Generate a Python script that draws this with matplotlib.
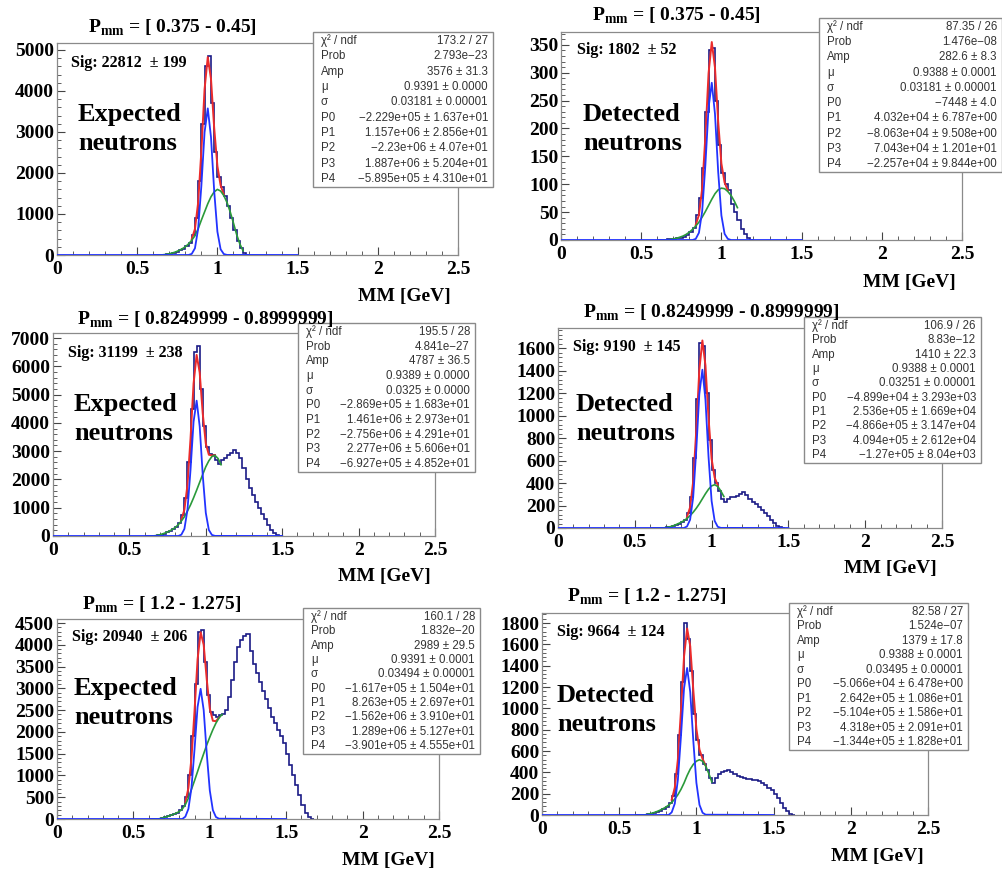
import numpy as np
import matplotlib
matplotlib.use('Agg')
import matplotlib.pyplot as plt
from matplotlib.patches import Rectangle
from matplotlib.ticker import MultipleLocator, FixedLocator, FixedFormatter

# figure size in pixels
W, H = 1003, 869

# all series sit on a 0.02 GeV grid
BIN = 0.02
HIST_START = 0.60   # left edge of first histogram bin
GAUSS_START = 0.82  # first point of gaussian curve
BKG_START = 0.64    # first point of pol4 background curve
TOTAL_START = 0.84  # first point of total fit curve

# ---- panel 1: expected, P = 0.375-0.45
p1_hist = [0, 0, 5, 10, 20, 35, 50, 75, 110, 150, 210, 300, 480, 900, 1800, 3200,
           4600, 4850, 3700, 2500, 1900, 1650, 1450, 1200, 900, 600, 350, 160, 50, 5]
p1_gauss = [0, 28, 164, 640, 1686, 2993, 3576, 2875, 1558, 569, 140, 23, 2]
p1_bkg = [0, 5, 15, 30, 50, 75, 110, 150, 200, 270, 360, 470, 640, 850, 1050, 1250,
          1420, 1540, 1600, 1560, 1450, 1280, 1050, 780, 500, 270, 100]
p1_total = [388, 634, 1280, 2536, 4043, 4826, 4295, 3098, 2169, 1700, 1473]

# ---- panel 2: detected, P = 0.375-0.45
p2_hist = [0, 0, 0, 1, 1, 2, 3, 4, 6, 9, 14, 22, 45, 75, 130, 230, 340, 345, 250,
           170, 120, 100, 90, 65, 50, 35, 20, 10, 3, 0]
p2_gauss = [0, 2, 13, 51, 134, 237, 282, 226, 122, 44, 11, 2, 0]
p2_bkg = [0, 0, 1, 2, 3, 5, 7, 10, 14, 19, 25, 32, 41, 51, 62, 73, 83, 90, 93, 92,
          87, 80, 70, 58]
p2_total = [27, 45, 92, 185, 299, 355, 309, 212, 137, 103, 89]

# ---- panel 3: expected, P = 0.825-0.9
p3_hist = [0, 0, 5, 10, 25, 50, 85, 125, 175, 240, 330, 460, 750, 1350, 2600, 4500,
           6500, 6700, 5200, 3900, 3150, 2900, 2850, 2700, 2550, 2700, 2750, 2850,
           2950, 3050, 2950, 2750, 2400, 2000, 1700, 1450, 1200, 980, 780, 600, 400,
           220, 90, 20, 0]
p3_gauss = [0, 47, 251, 927, 2339, 4043, 4785, 3877, 2151, 818, 213, 38, 4]
p3_bkg = [0, 5, 20, 45, 80, 120, 170, 230, 300, 400, 530, 680, 880, 1100, 1350, 1620,
          1900, 2180, 2450, 2660, 2810, 2850, 2740, 2520]
p3_total = [577, 931, 1807, 3439, 5393, 6405, 5777, 4331, 3268, 2873, 2848, 2854]

# ---- panel 4: detected, P = 0.825-0.9
p4_hist = [0, 0, 0, 0, 2, 5, 10, 17, 27, 40, 55, 75, 130, 280, 620, 1150, 1650, 1620,
           1200, 780, 520, 400, 330, 260, 230, 260, 275, 280, 285, 300, 320, 290, 260,
           230, 210, 185, 160, 135, 105, 75, 45, 20, 5, 0]
p4_gauss = [0, 14, 74, 273, 689, 1191, 1409, 1142, 634, 241, 63, 11, 1]
p4_bkg = [0, 0, 0, 3, 8, 15, 25, 37, 50, 65, 85, 110, 140, 175, 215, 260, 305, 345,
          375, 385, 370, 330, 280]
p4_total = [99, 184, 413, 864, 1406, 1669, 1447, 979, 616, 448, 381]

# ---- panel 5: expected, P = 1.2-1.275
p5_hist = [0, 0, 5, 10, 20, 40, 60, 85, 110, 145, 200, 300, 500, 1000, 1900, 3100,
           4300, 4350, 3600, 2850, 2450, 2380, 2350, 2380, 2400, 2500, 2800, 3200,
           3600, 3950, 4100, 4200, 4250, 3850, 3550, 3350, 3150, 2950, 2750, 2550,
           2350, 2200, 2050, 1900, 1750, 1500, 1250, 1000, 780, 550, 320, 130, 40, 5]
p5_gauss = [0, 54, 231, 716, 1598, 2574, 2989, 2500, 1506, 655, 205, 46, 7]
p5_bkg = [0, 0, 15, 35, 55, 80, 105, 135, 170, 230, 330, 480, 680, 880, 1090, 1300,
          1500, 1700, 1880, 2050, 2200, 2320, 2400]
p5_total = [384, 711, 1396, 2478, 3664, 4289, 4000, 3206, 2535, 2255, 2246, 2327]

# ---- panel 6: detected, P = 1.2-1.275
p6_hist = [0, 0, 0, 2, 5, 12, 20, 30, 42, 56, 75, 110, 180, 380, 750, 1250, 1800,
           1650, 1350, 950, 700, 560, 480, 420, 350, 300, 350, 380, 400, 410, 420,
           400, 380, 370, 360, 350, 340, 340, 330, 330, 320, 300, 280, 255, 230, 200,
           160, 115, 70, 35, 10, 0]
p6_gauss = [0, 25, 107, 330, 737, 1188, 1379, 1153, 695, 302, 95, 21, 3]
p6_bkg = [0, 0, 5, 12, 20, 30, 42, 56, 72, 92, 118, 150, 190, 240, 300, 370, 430,
          475, 505, 518, 505, 460, 390, 310]
p6_total = [143, 257, 520, 977, 1488, 1749, 1583, 1170, 807, 613, 526, 463]

titles = ['[ 0.375 - 0.45]', '[ 0.375 - 0.45]', '[ 0.8249999 - 0.8999999]',
          '[ 0.8249999 - 0.8999999]', '[ 1.2 - 1.275]', '[ 1.2 - 1.275]']
sig_texts = ['Sig: 22812  \u00b1 199', 'Sig: 1802  \u00b1 52', 'Sig: 31199  \u00b1 238',
             'Sig: 9190  \u00b1 145', 'Sig: 20940  \u00b1 206', 'Sig: 9664  \u00b1 124']
big_labels = ['Expected\nneutrons', 'Detected\nneutrons'] * 3

stat_names = ['\u03c7\u00b2 / ndf', 'Prob', 'Amp', '\u03bc', '\u03c3',
              'P0', 'P1', 'P2', 'P3', 'P4']
p1_stats = ['173.2 / 27', '2.793e\u221223', '3576 \u00b1 31.3', '0.9391 \u00b1 0.0000',
            '0.03181 \u00b1 0.00001', '\u22122.229e+05 \u00b1 1.637e+01',
            '1.157e+06 \u00b1 2.856e+01', '\u22122.23e+06 \u00b1 4.07e+01',
            '1.887e+06 \u00b1 5.204e+01', '\u22125.895e+05 \u00b1 4.310e+01']
p2_stats = ['87.35 / 26', '1.476e\u221208', '282.6 \u00b1 8.3', '0.9388 \u00b1 0.0001',
            '0.03181 \u00b1 0.00001', '\u22127448 \u00b1 4.0',
            '4.032e+04 \u00b1 6.787e+00', '\u22128.063e+04 \u00b1 9.508e+00',
            '7.043e+04 \u00b1 1.201e+01', '\u22122.257e+04 \u00b1 9.844e+00']
p3_stats = ['195.5 / 28', '4.841e\u221227', '4787 \u00b1 36.5', '0.9389 \u00b1 0.0000',
            '0.0325 \u00b1 0.0000', '\u22122.869e+05 \u00b1 1.683e+01',
            '1.461e+06 \u00b1 2.973e+01', '\u22122.756e+06 \u00b1 4.291e+01',
            '2.277e+06 \u00b1 5.606e+01', '\u22126.927e+05 \u00b1 4.852e+01']
p4_stats = ['106.9 / 26', '8.83e\u221212', '1410 \u00b1 22.3', '0.9388 \u00b1 0.0001',
            '0.03251 \u00b1 0.00001', '\u22124.899e+04 \u00b1 3.293e+03',
            '2.536e+05 \u00b1 1.669e+04', '\u22124.866e+05 \u00b1 3.147e+04',
            '4.094e+05 \u00b1 2.612e+04', '\u22121.27e+05 \u00b1 8.04e+03']
p5_stats = ['160.1 / 28', '1.832e\u221220', '2989 \u00b1 29.5', '0.9391 \u00b1 0.0001',
            '0.03494 \u00b1 0.00001', '\u22121.617e+05 \u00b1 1.504e+01',
            '8.263e+05 \u00b1 2.697e+01', '\u22121.562e+06 \u00b1 3.910e+01',
            '1.289e+06 \u00b1 5.127e+01', '\u22123.901e+05 \u00b1 4.555e+01']
p6_stats = ['82.58 / 27', '1.524e\u221207', '1379 \u00b1 17.8', '0.9388 \u00b1 0.0001',
            '0.03495 \u00b1 0.00001', '\u22125.066e+04 \u00b1 6.478e+00',
            '2.642e+05 \u00b1 1.086e+01', '\u22125.104e+05 \u00b1 1.586e+01',
            '4.318e+05 \u00b1 2.091e+01', '\u22121.344e+05 \u00b1 1.828e+01']

# layout in pixels: axes (left, top, right, bottom), y top, y tick step,
# title centre, sig pos, big label pos, x label centre, stat box (l, t, r, b)
layout = [
    dict(ax=(57, 43, 458, 255), ytop=5170, ystep=1000, title=(172, 28), sig=(71, 63),
         lab=(78, 129), xlab=(404, 297), box=(313, 32, 493, 187)),
    dict(ax=(561, 32, 962, 240), ytop=373, ystep=50, title=(676, 16), sig=(577, 50),
         lab=(583, 129), xlab=(909, 283), box=(819, 18, 1002, 172)),
    dict(ax=(53, 333, 435, 536), ytop=7177, ystep=1000, title=(205, 320), sig=(68, 353),
         lab=(74, 419), xlab=(384, 576), box=(298, 323, 475, 472)),
    dict(ax=(558, 328, 942, 528), ytop=1780, ystep=200, title=(711, 313), sig=(573, 347),
         lab=(576, 419), xlab=(890, 569), box=(804, 317, 981, 463)),
    dict(ax=(57, 619, 439, 819), ytop=4592, ystep=500, title=(162, 605), sig=(72, 637),
         lab=(74, 703), xlab=(388, 861), box=(303, 608, 480, 754)),
    dict(ax=(542, 613, 928, 815), ytop=1894, ystep=200, title=(647, 597), sig=(557, 632),
         lab=(557, 710), xlab=(877, 856), box=(789, 603, 968, 750)),
]

panels = [(p1_hist, p1_gauss, p1_bkg, p1_total, p1_stats),
          (p2_hist, p2_gauss, p2_bkg, p2_total, p2_stats),
          (p3_hist, p3_gauss, p3_bkg, p3_total, p3_stats),
          (p4_hist, p4_gauss, p4_bkg, p4_total, p4_stats),
          (p5_hist, p5_gauss, p5_bkg, p5_total, p5_stats),
          (p6_hist, p6_gauss, p6_bkg, p6_total, p6_stats)]

HIST_COL = '#1b1b86'
RED = '#ec2b2b'
BLUE = '#2233ff'
GREEN = '#2a9a3a'

plt.rcParams['font.family'] = 'Liberation Serif'
plt.rcParams['font.weight'] = 'bold'
plt.rcParams['mathtext.fontset'] = 'custom'
plt.rcParams['mathtext.bf'] = 'Liberation Serif:bold'
plt.rcParams['mathtext.rm'] = 'Liberation Serif:bold'


def fx(x):
    return x / W


def fy(y):
    return 1 - y / H


def grid(start, vals):
    return np.round(start + BIN * np.arange(len(vals)), 4)


fig = plt.figure(figsize=(W / 100, H / 100), dpi=100)

for (hist, gauss, bkg, total, stats), lay, title, sig, lab in zip(
        panels, layout, titles, sig_texts, big_labels):
    l, t, r, b = lay['ax']
    ax = fig.add_axes([fx(l), fy(b), fx(r - l), (b - t) / H])

    edges = grid(HIST_START, hist + [0])
    ax.stairs(hist, edges, color=HIST_COL, lw=1.2, zorder=2)

    ax.plot(grid(TOTAL_START, total), total, color=RED, lw=1.4, zorder=3)
    ax.plot(grid(BKG_START, bkg), bkg, color=GREEN, lw=1.2, zorder=4)
    gx = np.concatenate([[0.0], grid(GAUSS_START, gauss), [1.5]])
    gy = np.concatenate([[0], gauss, [0]])
    ax.plot(gx, gy, color=BLUE, lw=1.3, zorder=5)

    ax.set_xlim(0, 2.5)
    ax.set_ylim(0, lay['ytop'])
    ax.xaxis.set_major_locator(FixedLocator([0, 0.5, 1, 1.5, 2, 2.5]))
    ax.xaxis.set_major_formatter(FixedFormatter(['0', '0.5', '1', '1.5', '2', '2.5']))
    ax.xaxis.set_minor_locator(MultipleLocator(0.1))
    ax.yaxis.set_major_locator(MultipleLocator(lay['ystep']))
    ax.yaxis.set_minor_locator(MultipleLocator(lay['ystep'] / 5))
    ax.tick_params(which='both', direction='in', top=False, right=False,
                   color='#444444', labelsize=14)
    ax.tick_params(which='major', length=6)
    ax.tick_params(which='minor', length=3)
    ax.tick_params(axis='x', pad=4)
    ax.tick_params(axis='y', pad=2)
    for s in ax.spines.values():
        s.set_color('#8a8a8a')
        s.set_linewidth(0.9)

    # title, labels
    tx, ty = lay['title']
    fig.text(fx(tx), fy(ty), r'$\mathbf{P}_{\mathbf{mm}}$ = ' + title, ha='center',
             va='center', fontsize=14, zorder=10)
    sx, sy = lay['sig']
    fig.text(fx(sx), fy(sy), sig, ha='left', va='center', fontsize=11.5)
    bx, by = lay['lab']
    fig.text(fx(bx), fy(by), lab, ha='left', va='center', fontsize=19, linespacing=1.35)
    mx, my = lay['xlab']
    fig.text(fx(mx), fy(my), 'MM [GeV]', ha='center', va='center', fontsize=14)

    # fit statistics box
    bl, bt, br, bb = lay['box']
    fig.add_artist(Rectangle((fx(bl), fy(bb)), fx(br - bl), (bb - bt) / H,
                             transform=fig.transFigure, facecolor='white',
                             edgecolor='#8a8a8a', lw=1.0, zorder=8))
    step = (bb - bt - 17) / 9
    for i, (name, val) in enumerate(zip(stat_names, stats)):
        yy = bt + 9 + i * step
        fig.text(fx(bl + 8), fy(yy), name, ha='left', va='center', fontsize=8.3,
                 family='Liberation Sans', weight='normal', color='#333333', zorder=9)
        fig.text(fx(br - 5), fy(yy), val, ha='right', va='center', fontsize=8.3,
                 family='Liberation Sans', weight='normal', color='#333333', zorder=9)

fig.savefig('out.png', dpi=100)
